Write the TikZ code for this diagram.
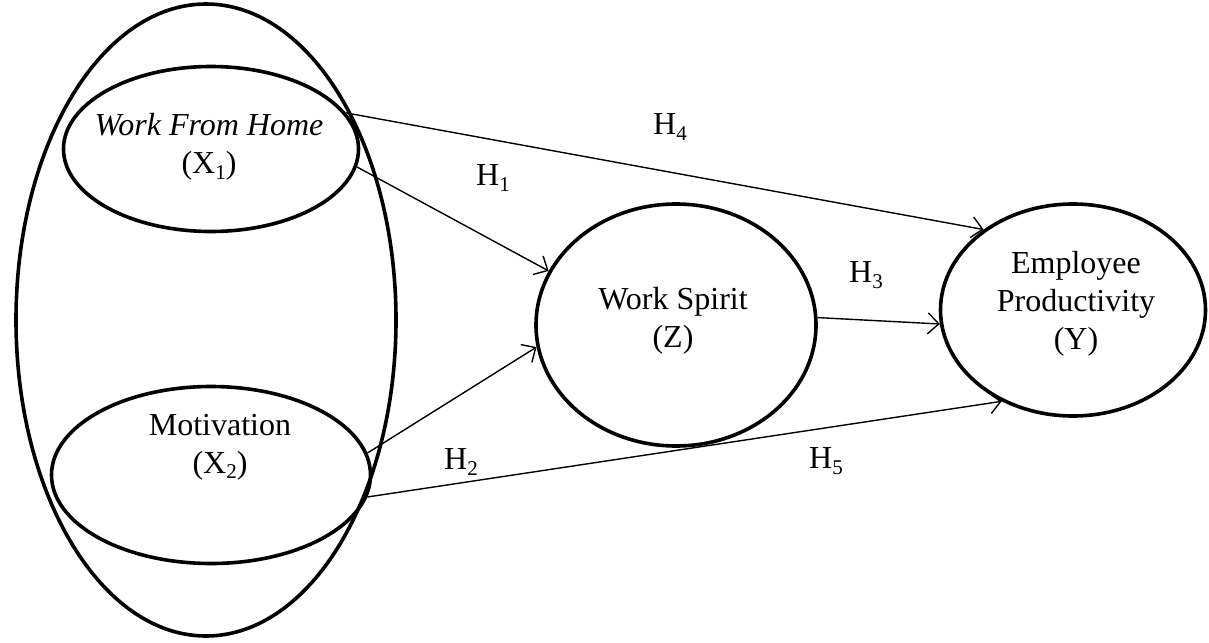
\documentclass[tikz,border=0pt]{standalone}
\usepackage{fontspec}
\setmainfont{Liberation Serif}
\usetikzlibrary{shapes.geometric,arrows.meta}
\newcommand{\sbx}[1]{\raisebox{-0.18em}{\fontsize{21}{21}\selectfont #1}}
\begin{document}
\begin{tikzpicture}[x=1pt,y=-1pt,
  every node/.style={font=\fontsize{32}{38}\selectfont},
  bubble/.style={draw,ellipse,line width=3.6pt,inner sep=0pt},
  txt/.style={align=center,inner sep=0pt},
  path/.style={line width=1.4pt,-{Straight Barb[length=11pt,width=21pt,line width=1.4pt]}},
  lbl/.style={inner sep=0pt}]
\useasboundingbox (0,0) rectangle (1209,642);
\node[bubble,minimum width=380pt,minimum height=632pt] (group) at (206,320) {};
\node[bubble,minimum width=295pt,minimum height=165pt] (wfh) at (211,149) {};
\node[txt] (wfht) at (209,147) {\textit{Work From Home}\\(X\sbx{1})};
\node[bubble,minimum width=319pt,minimum height=177pt] (mot) at (211,475) {};
\node[txt] (mott) at (220,447) {Motivation\\(X\sbx{2})};
\node[bubble,minimum width=280pt,minimum height=242pt] (z) at (676,325) {};
\node[txt] (zt) at (673,321) {Work Spirit\\(Z)};
\node[bubble,minimum width=265pt,minimum height=212pt] (y) at (1073,310) {};
\node[txt] (yt) at (1076,304) {Employee\\Productivity\\(Y)};
\draw[path] (wfh.15) -- (y.138);
\draw[path] (wfh.-7) -- (z.157.7);
\draw[path] (mot.8.5) -- (z.189.5);
\draw[path] (mot.-8) -- (y.232);
\draw[path] (z.3.2) -- (y.186.5);
\node[lbl] (h4) at (670,127) {H\sbx{4}};
\node[lbl] (h1) at (493,178) {H\sbx{1}};
\node[lbl] (h3) at (866,275) {H\sbx{3}};
\node[lbl] (h2) at (461,462) {H\sbx{2}};
\node[lbl] (h5) at (826,461) {H\sbx{5}};
\end{tikzpicture}
\end{document}
